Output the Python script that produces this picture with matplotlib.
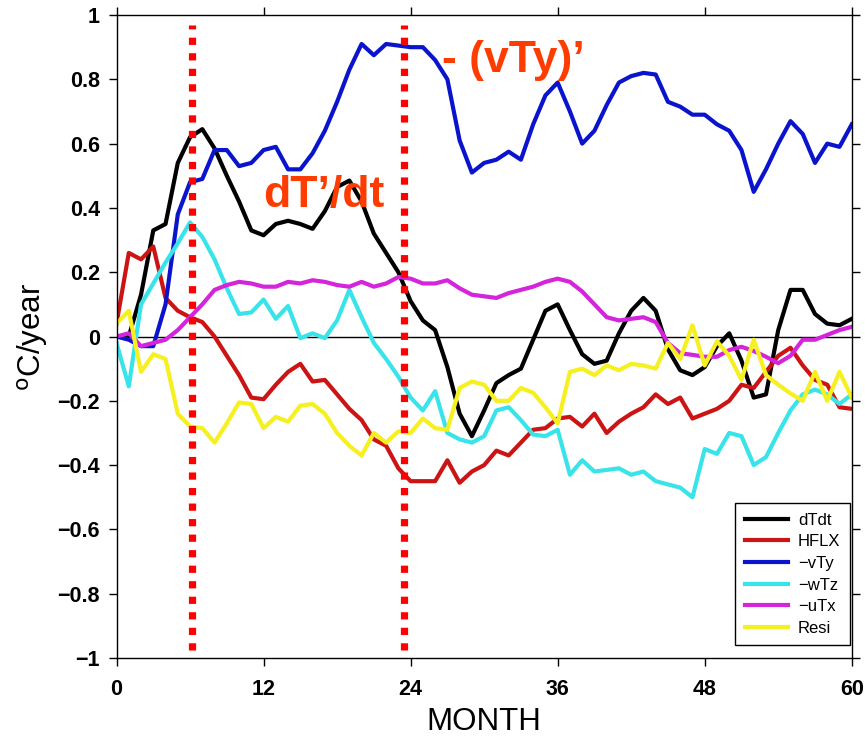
import matplotlib
matplotlib.use('Agg')
import matplotlib.pyplot as plt

# Monatliche Terme der Waermebilanz (oC/year), Monat 0 bis 60
month = list(range(61))

dTdt = [0.0, 0.0, 0.13, 0.33, 0.35, 0.54, 0.62, 0.645, 0.585, 0.50,
        0.42, 0.33, 0.315, 0.35, 0.36, 0.35, 0.335, 0.39, 0.465, 0.485,
        0.42, 0.32, 0.26, 0.20, 0.11, 0.05, 0.02, -0.095, -0.24, -0.31,
        -0.23, -0.145, -0.12, -0.10, -0.01, 0.08, 0.10, 0.02, -0.055, -0.085,
        -0.075, 0.01, 0.08, 0.12, 0.08, -0.04, -0.105, -0.12, -0.095, -0.03,
        0.01, -0.075, -0.19, -0.18, 0.02, 0.145, 0.145, 0.07, 0.04, 0.035,
        0.055]

hflx = [0.04, 0.26, 0.24, 0.28, 0.12, 0.08, 0.06, 0.045, 0.0, -0.06,
        -0.12, -0.19, -0.195, -0.15, -0.11, -0.085, -0.14, -0.135, -0.18, -0.225,
        -0.26, -0.32, -0.34, -0.41, -0.45, -0.45, -0.45, -0.385, -0.455, -0.42,
        -0.40, -0.355, -0.37, -0.33, -0.29, -0.285, -0.255, -0.25, -0.28, -0.24,
        -0.30, -0.265, -0.24, -0.22, -0.18, -0.21, -0.19, -0.255, -0.24, -0.225,
        -0.20, -0.15, -0.16, -0.11, -0.06, -0.035, -0.09, -0.135, -0.15, -0.22,
        -0.225]

vTy = [0.0, -0.01, -0.03, -0.03, 0.1, 0.38, 0.48, 0.49, 0.58, 0.58,
       0.53, 0.54, 0.58, 0.59, 0.52, 0.52, 0.57, 0.64, 0.73, 0.83,
       0.91, 0.875, 0.91, 0.905, 0.90, 0.90, 0.86, 0.80, 0.61, 0.51,
       0.54, 0.55, 0.575, 0.55, 0.66, 0.75, 0.79, 0.70, 0.60, 0.64,
       0.72, 0.79, 0.81, 0.82, 0.815, 0.73, 0.715, 0.69, 0.69, 0.66,
       0.64, 0.58, 0.45, 0.52, 0.60, 0.67, 0.63, 0.54, 0.60, 0.59,
       0.66]

wTz = [-0.02, -0.155, 0.10, 0.165, 0.23, 0.29, 0.355, 0.31, 0.24, 0.15,
       0.07, 0.075, 0.115, 0.055, 0.095, -0.005, 0.01, -0.005, 0.05, 0.145,
       0.06, -0.02, -0.07, -0.125, -0.19, -0.23, -0.17, -0.30, -0.32, -0.33,
       -0.31, -0.23, -0.22, -0.26, -0.305, -0.31, -0.29, -0.43, -0.385, -0.42,
       -0.415, -0.41, -0.43, -0.42, -0.45, -0.46, -0.47, -0.50, -0.35, -0.365,
       -0.30, -0.31, -0.40, -0.375, -0.30, -0.23, -0.18, -0.165, -0.18, -0.21,
       -0.18]

uTx = [0.0, 0.01, -0.03, -0.02, -0.01, 0.02, 0.06, 0.10, 0.145, 0.16,
       0.17, 0.165, 0.155, 0.155, 0.17, 0.165, 0.175, 0.17, 0.16, 0.155,
       0.17, 0.155, 0.165, 0.185, 0.18, 0.165, 0.165, 0.175, 0.15, 0.13,
       0.125, 0.12, 0.135, 0.145, 0.155, 0.17, 0.18, 0.17, 0.14, 0.10,
       0.06, 0.05, 0.055, 0.06, 0.045, -0.02, -0.052, -0.057, -0.063, -0.063,
       -0.042, -0.032, -0.045, -0.063, -0.083, -0.06, -0.01, -0.01, 0.005, 0.02,
       0.03]

resi = [0.04, 0.08, -0.11, -0.055, -0.07, -0.24, -0.28, -0.285, -0.33, -0.27,
        -0.205, -0.21, -0.285, -0.25, -0.265, -0.215, -0.21, -0.24, -0.30, -0.34,
        -0.37, -0.30, -0.33, -0.295, -0.30, -0.255, -0.285, -0.29, -0.16, -0.14,
        -0.15, -0.20, -0.20, -0.16, -0.175, -0.22, -0.27, -0.11, -0.10, -0.12,
        -0.09, -0.105, -0.085, -0.09, -0.10, -0.02, -0.07, 0.035, -0.09, -0.015,
        -0.06, -0.135, -0.01, -0.12, -0.15, -0.177, -0.20, -0.11, -0.20, -0.11,
        -0.19]

# markierte Monate (rote gepunktete Linien)
marker_months = [6.2, 23.5]

plt.rcParams['font.family'] = ['Liberation Sans', 'DejaVu Sans']

fig = plt.figure(figsize=(8.65, 7.37), dpi=100)
ax = fig.add_axes([0.1347, 0.1072, 0.8500, 0.8724])

ax.axhline(0, color='black', lw=1.0, zorder=1)

kurven = [
    (dTdt, 'black', 'dTdt'),
    (hflx, '#cc1414', 'HFLX'),
    (vTy, '#0a14cc', '\u2212vTy'),
    (wTz, '#38e4ea', '\u2212wTz'),
    (uTx, '#d424dc', '\u2212uTx'),
    (resi, '#f6f020', 'Resi'),
]
for werte, farbe, name in kurven:
    ax.plot(month, werte, color=farbe, lw=3.0, label=name, zorder=2)

for m in marker_months:
    ax.axvline(m, ymin=0.012, ymax=0.985, color='#ff0000', lw=5.2,
               dashes=(1.0, 1.15), solid_capstyle='butt',
               dash_capstyle='butt', zorder=3)

ax.text(16.9, 0.44, 'dT\u2019/dt', color='#ff3c00', fontsize=32,
        fontweight='bold', ha='center', va='center', zorder=4)
ax.text(32.4, 0.86, '- (vTy)\u2019', color='#ff3c00', fontsize=32,
        fontweight='bold', ha='center', va='center', zorder=4)

ax.set_xlim(0, 60)
ax.set_ylim(-1, 1)
ax.set_xticks([0, 12, 24, 36, 48, 60])
ax.set_yticks([-1, -0.8, -0.6, -0.4, -0.2, 0, 0.2, 0.4, 0.6, 0.8, 1])
ax.set_yticklabels(['\u22121', '\u22120.8', '\u22120.6', '\u22120.4', '\u22120.2',
                    '0', '0.2', '0.4', '0.6', '0.8', '1'])
ax.tick_params(direction='out', length=6, width=1.0, labelsize=15.5,
               top=True, right=True)
ax.tick_params(axis='x', pad=9)
ax.tick_params(axis='y', pad=6)
for lab in ax.get_xticklabels() + ax.get_yticklabels():
    lab.set_fontweight('bold')
for s in ax.spines.values():
    s.set_linewidth(1.0)

ax.set_xlabel('MONTH', fontsize=22.5, labelpad=5)
ax.set_ylabel('$^{\\rm o}$C/year', fontsize=22.5, labelpad=5)

leg = ax.legend(loc='lower right', bbox_to_anchor=(0.997, 0.02),
                fontsize=12, frameon=True, fancybox=False,
                edgecolor='black', framealpha=1, handlelength=2.6,
                handletextpad=0.6, labelspacing=0.4, borderpad=0.55,
                borderaxespad=0.0)
leg.get_frame().set_linewidth(1.0)

fig.savefig('out.png', dpi=100)
